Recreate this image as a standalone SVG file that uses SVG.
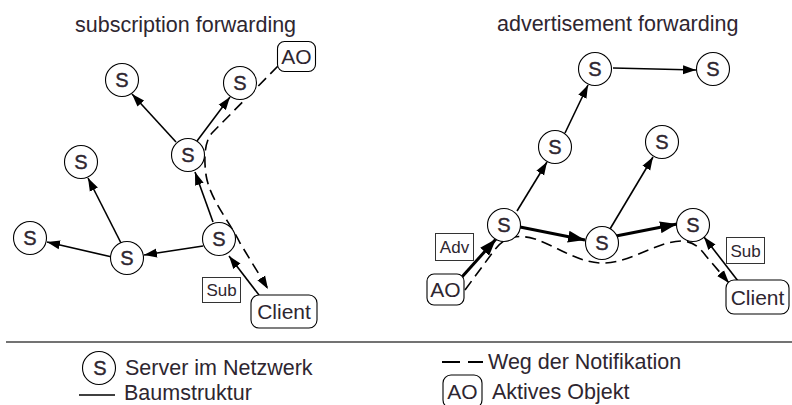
<svg xmlns="http://www.w3.org/2000/svg" width="792" height="405" viewBox="0 0 792 405">
  <style>
    text { font-family: "Liberation Sans", Arial, sans-serif; fill: #2e2630; }
    .title { font-size: 21.5px; }
    .lbl { font-size: 21px; text-anchor: middle; }
    .small { font-size: 17px; text-anchor: middle; }
    .s { font-size: 20px; text-anchor: middle; stroke: #2e2630; stroke-width: 0.4; }
    .legend { font-size: 21.5px; }
    .node { fill: #fff; stroke: #000; stroke-width: 1.1; }
    .tag { fill: #fff; stroke: #333; stroke-width: 1; }
    .tree { fill: none; stroke: #000; stroke-width: 1.6; }
    .thick { fill: none; stroke: #000; stroke-width: 3; }
    .dash { fill: none; stroke: #000; stroke-width: 1.6; stroke-dasharray: 11 6; }
  </style>
  <defs>
    <marker id="arrow" markerUnits="userSpaceOnUse" markerWidth="14" markerHeight="10" refX="13" refY="5" orient="auto">
      <path d="M0,0.5 L13,5 L0,9.5 z" fill="#000"/>
    </marker>
    <marker id="arrowBig" markerUnits="userSpaceOnUse" markerWidth="18" markerHeight="12" refX="17" refY="6" orient="auto">
      <path d="M0,0 L17,6 L0,12 z" fill="#000"/>
    </marker>
  </defs>

  <!-- panel titles -->
  <text class="title" x="75" y="32">subscription forwarding</text>
  <text class="title" x="497" y="31">advertisement forwarding</text>

  <!-- connectors -->
  <g id="connectors">
    <!-- subscription forwarding tree -->
    <line class="tree" x1="176" y1="142" x2="132" y2="94" marker-end="url(#arrow)"/>
    <line class="tree" x1="197" y1="141" x2="230" y2="97" marker-end="url(#arrow)"/>
    <line class="tree" x1="213" y1="222" x2="195" y2="172" marker-end="url(#arrow)"/>
    <line class="tree" x1="203" y1="246" x2="144" y2="255" marker-end="url(#arrow)"/>
    <line class="tree" x1="112" y1="257" x2="47" y2="242" marker-end="url(#arrow)"/>
    <line class="tree" x1="121" y1="243" x2="88" y2="178" marker-end="url(#arrow)"/>
    <line class="tree" x1="259" y1="295" x2="229" y2="256" marker-end="url(#arrow)"/>
    <path class="dash" d="M278,66 L212,133 C204,142 204,160 206,175 C210,200 230,222 240,243 L268,289" marker-end="url(#arrow)"/>

    <!-- advertisement forwarding tree -->
    <line class="tree" x1="613" y1="68" x2="696" y2="70" marker-end="url(#arrow)"/>
    <line class="tree" x1="565" y1="133" x2="588" y2="85" marker-end="url(#arrow)"/>
    <line class="tree" x1="517" y1="211" x2="547" y2="162" marker-end="url(#arrow)"/>
    <line class="tree" x1="610" y1="229" x2="653" y2="157" marker-end="url(#arrow)"/>
    <line class="thick" x1="520" y1="227" x2="585" y2="240" marker-end="url(#arrowBig)"/>
    <line class="thick" x1="616" y1="236" x2="677" y2="224" marker-end="url(#arrowBig)"/>
    <line class="thick" x1="461" y1="278" x2="496" y2="239" marker-end="url(#arrowBig)"/>
    <line class="tree" x1="738" y1="281" x2="704" y2="237" marker-end="url(#arrow)"/>
    <path class="dash" d="M465,290 L493,252 C503,238 515,233 535,239 C558,247 580,264 605,263 C632,262 660,240 683,241 C694,242 700,248 706,256 L729,283" marker-end="url(#arrow)"/>
  </g>

  <!-- subscription forwarding nodes -->
  <g id="s-l1"><circle class="node" cx="122" cy="80" r="16.5"/><text class="s" x="122" y="87">S</text></g>
  <g id="s-l2"><circle class="node" cx="240" cy="83" r="16.5"/><text class="s" x="240" y="90">S</text></g>
  <g id="s-l3"><circle class="node" cx="188" cy="155" r="16.5"/><text class="s" x="188" y="162">S</text></g>
  <g id="s-l4"><circle class="node" cx="81" cy="162" r="16.5"/><text class="s" x="81" y="169">S</text></g>
  <g id="s-l5"><circle class="node" cx="30" cy="238" r="16.5"/><text class="s" x="30" y="245">S</text></g>
  <g id="s-l6"><circle class="node" cx="127" cy="258" r="16.5"/><text class="s" x="127" y="265">S</text></g>
  <g id="s-l7"><circle class="node" cx="219" cy="239" r="16.5"/><text class="s" x="219" y="246">S</text></g>
  <g id="ao-l"><rect class="node" x="277.5" y="41.5" width="38" height="30" rx="7"/><text class="lbl" x="296.5" y="64">AO</text></g>
  <g id="sub-l"><rect class="tag" x="202.5" y="277.5" width="38" height="25"/><text class="small" x="221.5" y="296">Sub</text></g>
  <g id="client-l"><rect class="node" x="251" y="295" width="66" height="33" rx="8"/><text class="lbl" x="284" y="319">Client</text></g>

  <!-- advertisement forwarding nodes -->
  <g id="s-r1"><circle class="node" cx="595" cy="69" r="16.5"/><text class="s" x="595" y="76">S</text></g>
  <g id="s-r2"><circle class="node" cx="713" cy="69" r="16.5"/><text class="s" x="713" y="76">S</text></g>
  <g id="s-r3"><circle class="node" cx="555" cy="147" r="16.5"/><text class="s" x="555" y="154">S</text></g>
  <g id="s-r4"><circle class="node" cx="662" cy="142" r="16.5"/><text class="s" x="662" y="149">S</text></g>
  <g id="s-r5"><circle class="node" cx="504" cy="225" r="16.5"/><text class="s" x="504" y="232">S</text></g>
  <g id="s-r6"><circle class="node" cx="602" cy="243" r="16.5"/><text class="s" x="602" y="250">S</text></g>
  <g id="s-r7"><circle class="node" cx="693" cy="225" r="16.5"/><text class="s" x="693" y="232">S</text></g>
  <g id="adv-r"><rect class="tag" x="435.5" y="233.5" width="38" height="27"/><text class="small" x="454.5" y="253">Adv</text></g>
  <g id="ao-r"><rect class="node" x="427" y="274" width="37" height="31" rx="7"/><text class="lbl" x="445.5" y="297">AO</text></g>
  <g id="sub-r"><rect class="tag" x="726.5" y="237.5" width="38" height="26"/><text class="small" x="745.5" y="256.5">Sub</text></g>
  <g id="client-r"><rect class="node" x="726" y="280" width="63" height="34" rx="8"/><text class="lbl" x="757.5" y="304.5">Client</text></g>

  <!-- legend -->
  <g id="legend">
    <line x1="6" y1="342" x2="792" y2="342" stroke="#444" stroke-width="1.5"/>
    <circle class="node" cx="99" cy="368" r="16.5"/>
    <text class="s" x="100" y="375">S</text>
    <text class="legend" x="125" y="375">Server im Netzwerk</text>
    <line x1="79" y1="395" x2="115" y2="395" stroke="#000" stroke-width="1.6"/>
    <text class="legend" x="124" y="399.5">Baumstruktur</text>
    <line x1="442" y1="362" x2="460" y2="362" stroke="#000" stroke-width="2"/>
    <line x1="468" y1="362" x2="483" y2="362" stroke="#000" stroke-width="2"/>
    <text class="legend" x="488" y="369">Weg der Notifikation</text>
    <rect class="node" x="443" y="375" width="39" height="33" rx="8"/>
    <text class="lbl" x="462.5" y="398.5">AO</text>
    <text class="legend" x="492" y="399">Aktives Objekt</text>
  </g>
</svg>
